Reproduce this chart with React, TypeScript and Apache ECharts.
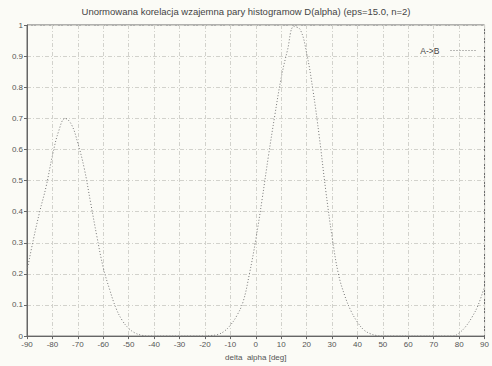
import React, { useEffect, useRef } from "react";
import * as echarts from "echarts";

const titleText = "Unormowana korelacja wzajemna pary histogramow D(alpha) (eps=15.0, n=2)";
const xAxisName = "delta  alpha [deg]";
const seriesName = "A->B";

const angles: number[] = [
  -90, -87.5, -85, -82.5, -80, -77.5, -75, -72.5, -70, -67.5, -65, -62.5, -60, -57.5, -55, -52.5,
  -50, -47.5, -45, -42.5, -40, -35, -30, -25, -20, -17.5, -15, -12.5, -10, -7.5, -5, -2.5,
  0, 2.5, 5, 7.5, 10, 12.5, 15, 17.5, 20, 22.5, 25, 27.5, 30, 32.5, 35, 37.5,
  40, 42.5, 45, 47.5, 50, 55, 60, 65, 70, 75, 77.5, 80, 82.5, 85, 87.5, 90,
];
const values: number[] = [
  0.21, 0.31, 0.40, 0.48, 0.58, 0.66, 0.70, 0.68, 0.62, 0.54, 0.43, 0.32, 0.22, 0.15, 0.09, 0.05,
  0.025, 0.01, 0.003, 0.0, 0.0, 0.0, 0.0, 0.0, 0.0, 0.002, 0.005, 0.015, 0.035, 0.065, 0.11, 0.2,
  0.31, 0.44, 0.58, 0.71, 0.83, 0.92, 0.995, 0.985, 0.91, 0.79, 0.64, 0.47, 0.32, 0.2, 0.13, 0.08,
  0.045, 0.02, 0.008, 0.002, 0.0, 0.0, 0.0, 0.0, 0.0, 0.0, 0.0, 0.01, 0.03, 0.06, 0.1, 0.16,
];

export default function App() {
  const ref = useRef<HTMLDivElement>(null);
  useEffect(() => {
    if (!ref.current) return;
    const chart = echarts.init(ref.current, undefined, { renderer: "svg" });
    const font = "'Liberation Sans', Arial, sans-serif";
    chart.setOption({
      animation: false,
      backgroundColor: "#fbfbf6",
      textStyle: { fontFamily: font },
      title: {
        text: titleText,
        left: "center",
        top: 1,
        textStyle: { fontSize: 9.5, fontWeight: "normal", color: "#444", fontFamily: font },
      },
      legend: {
        right: 10,
        top: 41,
        align: "right",
        itemWidth: 26,
        itemHeight: 8,
        itemStyle: { opacity: 0 },
        lineStyle: { width: 1 },
        textStyle: { fontSize: 8.5, color: "#444", padding: [0, 6, 0, 0] },
        data: [seriesName],
      },
      grid: {
        left: 27,
        right: 6,
        top: 25,
        bottom: 23,
        show: true,
        borderColor: "#666",
        borderWidth: 1,
        containLabel: false,
      },
      xAxis: {
        type: "value",
        min: -90,
        max: 90,
        interval: 10,
        name: xAxisName,
        nameLocation: "middle",
        nameGap: 15,
        nameTextStyle: { fontSize: 8, color: "#555" },
        axisLine: { show: true, onZero: false, lineStyle: { color: "#666", width: 1 } },
        axisTick: { show: true, length: 3, lineStyle: { color: "#666" } },
        axisLabel: { fontSize: 8, color: "#555", margin: 4 },
        splitLine: { show: true, lineStyle: { color: "#d2d2cc", type: [4, 2, 1, 2], width: 1 } },
      },
      yAxis: {
        type: "value",
        min: 0,
        max: 1,
        interval: 0.1,
        axisLine: { show: true, onZero: false, lineStyle: { color: "#666", width: 1 } },
        axisTick: { show: true, length: 3, lineStyle: { color: "#666" } },
        axisLabel: { fontSize: 8, color: "#555", margin: 4 },
        splitLine: { show: true, lineStyle: { color: "#d2d2cc", type: [4, 2, 1, 2], width: 1 } },
      },
      series: [
        {
          name: seriesName,
          type: "line",
          data: angles.map((a, i) => [a, values[i]]),
          smooth: 0.4,
          showSymbol: false,
          symbol: "none",
          lineStyle: { color: "#777", width: 1, type: [1, 2] },
          itemStyle: { color: "#777" },
        },
      ],
    });
    return () => chart.dispose();
  }, []);
  return (
    <div
      ref={ref}
      style={{ position: "fixed", left: 0, top: 0, width: 492, height: 366 }}
    />
  );
}
